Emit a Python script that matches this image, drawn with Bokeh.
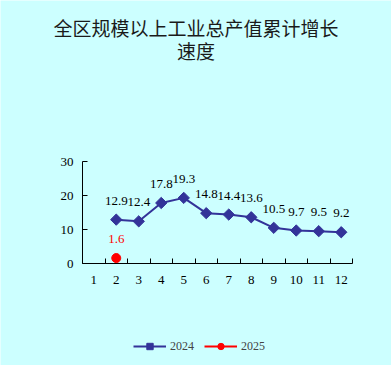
import numpy as np
from bokeh.plotting import figure
from bokeh.models import (Legend, LegendItem, FixedTicker, ColumnDataSource,
                          LabelSet, Range1d, Label)
from bokeh.core.properties import value
from bokeh.embed import file_html
from bokeh.resources import INLINE

# ---- data ----
months = [1, 2, 3, 4, 5, 6, 7, 8, 9, 10, 11, 12]
tick_labels = ["1", "2", "3", "4", "5", "6", "7", "8", "9", "10", "11", "12"]
months_2024 = [2, 3, 4, 5, 6, 7, 8, 9, 10, 11, 12]
values_2024 = [12.9, 12.4, 17.8, 19.3, 14.8, 14.4, 13.6, 10.5, 9.7, 9.5, 9.2]
months_2025 = [2]
values_2025 = [1.6]
title_lines = ["全区规模以上工业总产值累计增长", "速度"]
series_names = ["2024", "2025"]
y_ticks = [0, 10, 20, 30]

BG = "#CCFFFF"
BLUE = "#333399"
RED = "#FF0000"
NUMFONT = "Liberation Serif"

# ---- layout (pixels in the canvas) ----
W, H = 391, 365
AX_L, AX_R = 82, 352          # x extent of the plotting area
AX_T, AX_B = 161, 263         # y rows of 30 and 0
X0, X1 = 0.5, 12.5
Y0, Y1 = 0, 30
xu = (AX_R - AX_L) / (X1 - X0)       # px per x unit
yu = (AX_B - AX_T) / (Y1 - Y0)       # px per y unit
XS, XE = X0 - AX_L / xu, X0 + (W - AX_L) / xu
YS, YE = Y0 - (H - AX_B) / yu, Y0 + AX_B / yu

p = figure(width=W, height=H, output_backend="svg", toolbar_location=None,
           x_range=Range1d(XS, XE), y_range=Range1d(YS, YE),
           min_border=0, title=None)
p.background_fill_color = BG
p.border_fill_color = BG
p.outline_line_color = None
p.grid.visible = False

# axes, fixed at the data origin so the frame can span the whole canvas
p.xaxis.fixed_location = Y0
p.xaxis.bounds = (X0, X1)
p.xaxis.ticker = FixedTicker(ticks=months, minor_ticks=[m - 0.5 for m in months] + [12.5])
p.xaxis.major_label_overrides = {m: t for m, t in zip(months, tick_labels)}
p.xaxis.major_tick_line_color = None
p.xaxis.minor_tick_in = 5
p.xaxis.minor_tick_out = 0
p.xaxis.minor_tick_line_color = "black"
p.yaxis.fixed_location = X0
p.yaxis.bounds = (Y0, Y1)
p.yaxis.ticker = FixedTicker(ticks=y_ticks)
p.yaxis.major_tick_in = 5
p.yaxis.major_tick_out = 0
p.yaxis.minor_tick_line_color = None
for ax in (p.xaxis, p.yaxis):
    ax.axis_line_color = "black"
    ax.major_label_text_font = NUMFONT
    ax.major_label_text_font_size = "13px"
    ax.major_label_text_color = "black"
p.xaxis.major_label_standoff = 6
p.yaxis.major_label_standoff = 9

src24 = ColumnDataSource(dict(x=months_2024, y=values_2024,
                              t=[f"{v:.1f}" for v in values_2024]))
src25 = ColumnDataSource(dict(x=months_2025, y=values_2025,
                              t=[f"{v:.1f}" for v in values_2025]))

l24 = p.line("x", "y", source=src24, line_color=BLUE, line_width=2)
s24 = p.scatter("x", "y", source=src24, marker="square", angle=np.pi / 4,
                size=8, fill_color=BLUE, line_color=BLUE)
l25 = p.line("x", "y", source=src25, line_color=RED, line_width=2)
s25 = p.scatter("x", "y", source=src25, marker="circle", size=9,
                fill_color=RED, line_color=RED)

p.add_layout(LabelSet(x="x", y="y", text="t", source=src24, y_offset=15,
                      text_align="center", text_font=value(NUMFONT),
                      text_font_size=value("13px"), text_color="black"))
p.add_layout(LabelSet(x="x", y="y", text="t", source=src25, y_offset=15,
                      text_align="center", text_font=value(NUMFONT),
                      text_font_size=value("13px"), text_color=RED))

# title (two lines) in the top part of the canvas
x_mid = XS + (W / 2) / xu
for i, line in enumerate(title_lines):
    py = 27 + 23 * i
    p.add_layout(Label(x=x_mid, y=YE - py / yu, text=line,
                       text_align="center", text_baseline="middle",
                       text_font="Noto Sans CJK SC", text_font_size="19px",
                       text_color="#1a1a1a"))

legend = Legend(items=[LegendItem(label=series_names[0], renderers=[l24, s24]),
                       LegendItem(label=series_names[1], renderers=[l25, s25])],
                orientation="horizontal", location=(133, 11),
                background_fill_alpha=0, border_line_color=None,
                label_text_font=NUMFONT, label_text_font_size="12px",
                glyph_width=33, glyph_height=16, label_standoff=4, spacing=10,
                padding=2, margin=0)
p.add_layout(legend)

open("out.html", "w").write(file_html(p, INLINE))
